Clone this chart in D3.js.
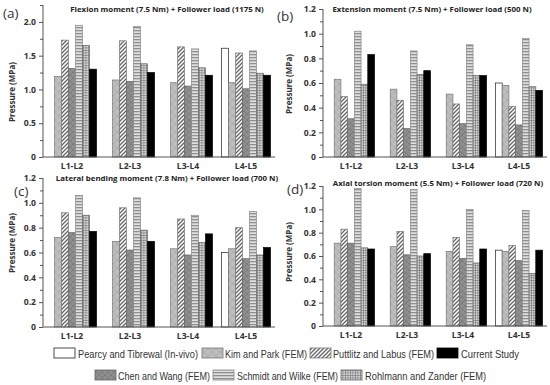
<html>
<head>
<style>
  body { margin: 0; background: #fff; }
  .tick text { font: bold 8.6px "Open Sans", Arial, sans-serif; fill: #333; }
  .title { font: bold 7.85px "Open Sans", Arial, sans-serif; fill: #222; }
  .ylab { font: bold 8px "Open Sans", Arial, sans-serif; fill: #333; }
  .plab { font: 13.5px "Open Sans", Arial, sans-serif; fill: #333; }
  .leg { font: 11px "Liberation Sans", Arial, sans-serif; fill: #333; }
</style>
<script src="https://cdnjs.cloudflare.com/ajax/libs/d3/7.8.5/d3.min.js"></script>
</head>
<body>
<script>
// categories and series
var levels = ["L1-L2", "L2-L3", "L3-L4", "L4-L5"];
var studies = ["Pearcy and Tibrewal (In-vivo)", "Kim and Park (FEM)", "Puttlitz and Labus (FEM)",
  "Chen and Wang (FEM)", "Schmidt and Wilke (FEM)", "Rohlmann and Zander (FEM)", "Current Study"];

// values per level, in study order (null = no data)
var flexion = [
  [null, 1.19, 1.73, 1.31, 1.95, 1.65, 1.30],
  [null, 1.14, 1.72, 1.12, 1.93, 1.38, 1.25],
  [null, 1.10, 1.63, 1.05, 1.60, 1.32, 1.21],
  [1.61, 1.10, 1.54, 1.01, 1.57, 1.24, 1.21]
];
var extension = [
  [null, 0.63, 0.49, 0.31, 1.02, 0.59, 0.83],
  [null, 0.55, 0.46, 0.23, 0.86, 0.67, 0.70],
  [null, 0.51, 0.43, 0.27, 0.91, 0.66, 0.66],
  [0.60, 0.58, 0.41, 0.26, 0.96, 0.57, 0.54]
];
var lateral = [
  [null, 0.72, 0.92, 0.76, 1.06, 0.90, 0.77],
  [null, 0.69, 0.96, 0.62, 1.04, 0.78, 0.69],
  [null, 0.63, 0.87, 0.58, 0.90, 0.68, 0.75],
  [0.60, 0.63, 0.80, 0.55, 0.93, 0.58, 0.64]
];
var torsion = [
  [null, 0.71, 0.83, 0.71, 1.18, 0.67, 0.66],
  [null, 0.68, 0.81, 0.61, 1.17, 0.60, 0.62],
  [null, 0.64, 0.76, 0.58, 1.00, 0.54, 0.66],
  [0.65, 0.64, 0.69, 0.56, 0.99, 0.45, 0.65]
];

var titles = ["Flexion moment (7.5 Nm) + Follower load (1175 N)",
  "Extension moment (7.5 Nm) + Follower load (500 N)",
  "Lateral bending moment (7.8 Nm) + Follower load (700 N)",
  "Axial torsion moment (5.5 Nm) + Follower load (720 N)"];

var svg = d3.select("body").append("svg")
  .attr("width", 550)
  .attr("height", 385);

// patterns for the bars
var defs = svg.append("defs");
function pat(id, size, bg, draw) {
  var p = defs.append("pattern").attr("id", id)
    .attr("patternUnits", "userSpaceOnUse")
    .attr("width", size).attr("height", size);
  p.append("rect").attr("width", size).attr("height", size).attr("fill", bg);
  draw(p);
}
pat("kim", 8, "#bdbdbd", function(p) {
  p.append("path").attr("d", "M0,4 L4,0 L8,4 L4,8 Z").attr("fill", "none")
    .attr("stroke", "#a9a9a9").attr("stroke-width", 0.8);
});
pat("putt", 4, "#fff", function(p) {
  p.append("path").attr("d", "M-1,5 L5,-1 M-1,1 L1,-1 M3,5 L5,3")
    .attr("stroke", "#666").attr("stroke-width", 1.3);
});
pat("chen", 6, "#8e8e8e", function(p) {
  p.append("path").attr("d", "M0,0 L6,6 M6,0 L0,6").attr("stroke", "#7a7a7a").attr("stroke-width", 0.8);
});
pat("schm", 3, "#e0e0e0", function(p) {
  p.append("rect").attr("y", 0).attr("width", 3).attr("height", 1.3).attr("fill", "#8f8f8f");
});
pat("rohl", 2.5, "#d6d6d6", function(p) {
  p.append("path").attr("d", "M0,0 H2.5 M0,0 V2.5").attr("stroke", "#555").attr("stroke-width", 0.9);
});
var fills = ["#fff", "url(#kim)", "url(#putt)", "url(#chen)", "url(#schm)", "url(#rohl)", "#000"];
var strokes = ["#222", "#777", "#777", "#666", "#888", "#666", "#000"];

function drawPanel(data, cfg) {
  var x = d3.scaleBand().domain(levels).range([cfg.x0, cfg.x1]);
  var inner = d3.scaleBand().domain(d3.range(studies.length))
    .range([4.5, x.bandwidth() - 4.5]);
  var y = d3.scaleLinear().domain([0, cfg.ymax]).range([cfg.y0, cfg.ytop]);
  var g = svg.append("g");

  var groups = g.selectAll(".grp").data(data).enter().append("g")
    .attr("transform", function(d, i) { return "translate(" + x(levels[i]) + ",0)"; });
  groups.selectAll("rect")
    .data(function(d) { return d.map(function(v, j) { return {v: v, j: j}; }).filter(function(o) { return o.v !== null; }); })
    .enter().append("rect")
    .attr("x", function(o) { return inner(o.j); })
    .attr("width", inner.bandwidth())
    .attr("y", function(o) { return y(o.v); })
    .attr("height", function(o) { return cfg.y0 - y(o.v); })
    .attr("fill", function(o) { return fills[o.j]; })
    .attr("stroke", function(o) { return strokes[o.j]; })
    .attr("stroke-width", 0.7);

  // y axis with minor ticks
  var yAxis = d3.axisLeft(y).tickValues(cfg.major).tickSize(4)
    .tickFormat(function(d) { return d === 0 ? "0" : d3.format(".1f")(d); });
  var ya = g.append("g").attr("transform", "translate(" + cfg.x0 + ",0)").call(yAxis);
  ya.select(".domain").attr("d", "M-0," + cfg.y0 + "V" + y(cfg.ymax));
  g.append("g").attr("transform", "translate(" + cfg.x0 + ",0)")
    .call(d3.axisLeft(y).tickValues(cfg.minor).tickSize(3).tickFormat(""))
    .select(".domain").remove();

  var xa = g.append("g").attr("transform", "translate(0," + cfg.y0 + ")")
    .call(d3.axisBottom(x).tickSize(0).tickPadding(8));
  xa.select(".domain").attr("d", "M" + cfg.x0 + ",0H" + cfg.x1);
  xa.selectAll(".tick text").attr("dy", "0.5em");
  g.selectAll(".domain, .tick line").attr("stroke", "#555");

  g.append("text").attr("class", "title").attr("x", cfg.tx).attr("y", cfg.ty)
    .attr("text-anchor", "middle").text(cfg.title);
  g.append("text").attr("class", "ylab")
    .attr("transform", "translate(" + cfg.lx + "," + cfg.ly + ") rotate(-90)")
    .attr("text-anchor", "middle").text("Pressure (MPa)");
  g.append("text").attr("class", "plab").attr("x", cfg.px).attr("y", cfg.py).text(cfg.tag);
}

var maj12 = [0, 0.2, 0.4, 0.6, 0.8, 1.0, 1.2];
var min12 = [0.1, 0.3, 0.5, 0.7, 0.9, 1.1];

drawPanel(flexion, {x0: 43, x1: 275, y0: 157, ytop: 5, ymax: 2.25,
  major: [0, 0.5, 1.0, 1.5, 2.0], minor: [0.25, 0.75, 1.25, 1.75, 2.25],
  title: titles[0], tx: 167, ty: 12, lx: 15, ly: 92, tag: "(a)", px: 3, py: 18});
drawPanel(extension, {x0: 323, x1: 547, y0: 157, ytop: 9, ymax: 1.2,
  major: maj12, minor: min12,
  title: titles[1], tx: 432, ty: 12, lx: 292, ly: 84, tag: "(b)", px: 277, py: 21});
drawPanel(lateral, {x0: 43, x1: 275, y0: 327, ytop: 178, ymax: 1.2,
  major: maj12, minor: min12,
  title: titles[2], tx: 167, ty: 181, lx: 15, ly: 243, tag: "(c)", px: 14, py: 196});
drawPanel(torsion, {x0: 323, x1: 547, y0: 326, ytop: 186, ymax: 1.2,
  major: maj12, minor: min12,
  title: titles[3], tx: 438, ty: 186, lx: 292, ly: 252, tag: "(d)", px: 287, py: 194});

// legend
var legPos = [
  {bx: 54, by: 348, tx: 78, w: 120}, {bx: 202, by: 348, tx: 225, w: 82}, {bx: 310, by: 348, tx: 333, w: 101},
  {bx: 95, by: 370, tx: 118, w: 92}, {bx: 213, by: 370, tx: 237, w: 101}, {bx: 341, by: 370, tx: 365, w: 121},
  {bx: 437, by: 348, tx: 461, w: 58}
];
var legOrder = [0, 1, 2, 6, 3, 4, 5];
var leg = svg.append("g");
legOrder.forEach(function(j) {
  var p = legPos[j];
  leg.append("rect").attr("x", p.bx).attr("y", p.by).attr("width", 21).attr("height", 10)
    .attr("fill", fills[j]).attr("stroke", j === 0 ? "#222" : strokes[j]).attr("stroke-width", 0.8);
  leg.append("text").attr("class", "leg").attr("x", p.tx).attr("y", p.by + 9.5)
    .attr("textLength", p.w).attr("lengthAdjust", "spacingAndGlyphs").text(studies[j]);
});
</script>
</body>
</html>
